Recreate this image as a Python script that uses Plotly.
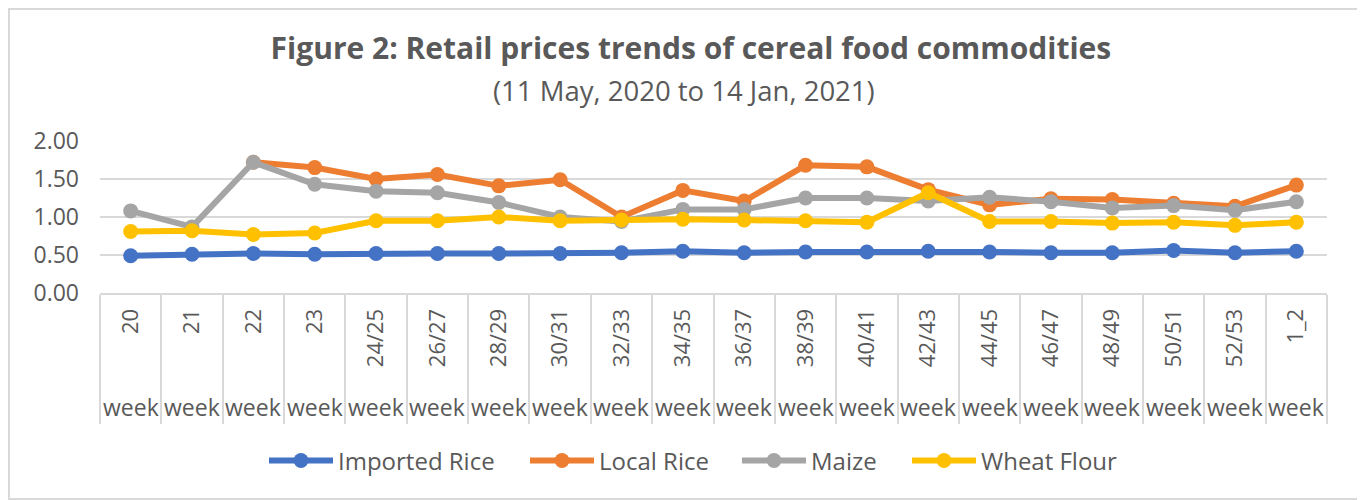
"""Retail price trends of cereal food commodities (Figure 2)."""
import plotly.graph_objects as go

WEEKS = ["20", "21", "22", "23", "24/25", "26/27", "28/29", "30/31", "32/33", "34/35",
         "36/37", "38/39", "40/41", "42/43", "44/45", "46/47", "48/49", "50/51", "52/53", "1_2"]

IMPORTED_RICE = [0.49, 0.51, 0.52, 0.51, 0.52, 0.52, 0.52, 0.52, 0.53, 0.55,
                 0.53, 0.54, 0.54, 0.55, 0.54, 0.53, 0.53, 0.56, 0.53, 0.55]
LOCAL_RICE = [None, None, 1.72, 1.65, 1.50, 1.56, 1.41, 1.49, 1.00, 1.35,
              1.21, 1.68, 1.66, 1.36, 1.16, 1.24, 1.23, 1.18, 1.14, 1.42]
MAIZE = [1.08, 0.87, 1.72, 1.43, 1.34, 1.32, 1.19, 1.00, 0.94, 1.10,
         1.10, 1.25, 1.25, 1.21, 1.26, 1.20, 1.12, 1.15, 1.09, 1.20]
WHEAT_FLOUR = [0.81, 0.82, 0.77, 0.79, 0.95, 0.95, 1.00, 0.95, 0.96, 0.97,
               0.96, 0.95, 0.93, 1.32, 0.94, 0.94, 0.92, 0.93, 0.89, 0.93]

SERIES = [
    ("Imported Rice", IMPORTED_RICE, "#4472C4"),
    ("Local Rice", LOCAL_RICE, "#ED7D31"),
    ("Maize", MAIZE, "#A5A5A5"),
    ("Wheat Flour", WHEAT_FLOUR, "#FFC000"),
]

FONT = "'Open Sans', Lato, sans-serif"
TEXT = "#595959"
GRID = "#D9D9D9"

# page body adds an 8px margin, so the figure is sized to end at the window edge
W, H = 1355, 492
ML, MR, MT, MB = 92, 36, 133, 207
PW, PH = W - ML - MR, H - MT - MB

# left edge (px, figure coords) of each legend entry, Excel spaces them unevenly
LEGEND_LEFT = [256, 517, 729, 899]

fig = go.Figure()
layout_legends = {}
for k, ((name, values, color), left) in enumerate(zip(SERIES, LEGEND_LEFT)):
    key = "legend" if k == 0 else f"legend{k + 1}"
    fig.add_trace(go.Scatter(
        x=WEEKS, y=values, name=name, mode="lines+markers",
        line=dict(color=color, width=6),
        marker=dict(color=color, size=15),
        legend=key,
    ))
    layout_legends[key] = dict(
        orientation="h", x=(left - ML) / PW, xanchor="left", y=-1.105, yanchor="middle",
        font=dict(size=24, color=TEXT, family=FONT), itemwidth=64,
        bgcolor="rgba(0,0,0,0)",
    )

# second-level "week" labels under each category
for i, _ in enumerate(WEEKS):
    fig.add_annotation(x=i, xref="x", y=-0.75, yref="paper", yanchor="middle",
                       text="week", showarrow=False,
                       font=dict(size=23, color=TEXT, family=FONT))

fig.add_annotation(x=0.476, xref="paper", y=1.3355, yref="paper", yanchor="middle",
                   text="(11 May, 2020 to 14 Jan, 2021)", showarrow=False,
                   font=dict(size=27.5, color=TEXT, family=FONT))

# chart-area border
fig.add_shape(type="rect", xref="paper", yref="paper",
              x0=-(ML - 1) / PW, x1=1 + (MR - 1) / PW,
              y0=-(MB - 1) / PH, y1=1 + (MT - 1) / PH,
              line=dict(color=GRID, width=2), layer="below")

fig.update_layout(
    width=W, height=H,
    margin=dict(l=ML, r=MR, t=MT, b=MB, autoexpand=False),
    plot_bgcolor="white", paper_bgcolor="white",
    font=dict(family=FONT, color=TEXT),
    title=dict(text="<b>Figure 2: Retail prices trends of cereal food commodities</b>",
               x=0.504, xanchor="center", y=0.917, yanchor="middle",
               font=dict(size=30, color=TEXT, family=FONT)),
    showlegend=True,
    **layout_legends,
)
fig.update_xaxes(
    type="category", showgrid=False, showline=True, linecolor=GRID, linewidth=2,
    ticks="outside", tickson="boundaries", ticklen=129, tickcolor=GRID, tickwidth=2,
    tickangle=-90, ticklabelstandoff=5, tickfont=dict(size=22, color=TEXT),
    range=[-0.5, len(WEEKS) - 0.5],
)
fig.update_yaxes(
    range=[0, 2], dtick=0.5, tickformat=".2f", showgrid=True, gridcolor=GRID, gridwidth=2,
    zeroline=False, showline=False, ticks="", tickfont=dict(size=23, color=TEXT),
    ticklabelstandoff=20,
)

fig.write_html("out.html")
